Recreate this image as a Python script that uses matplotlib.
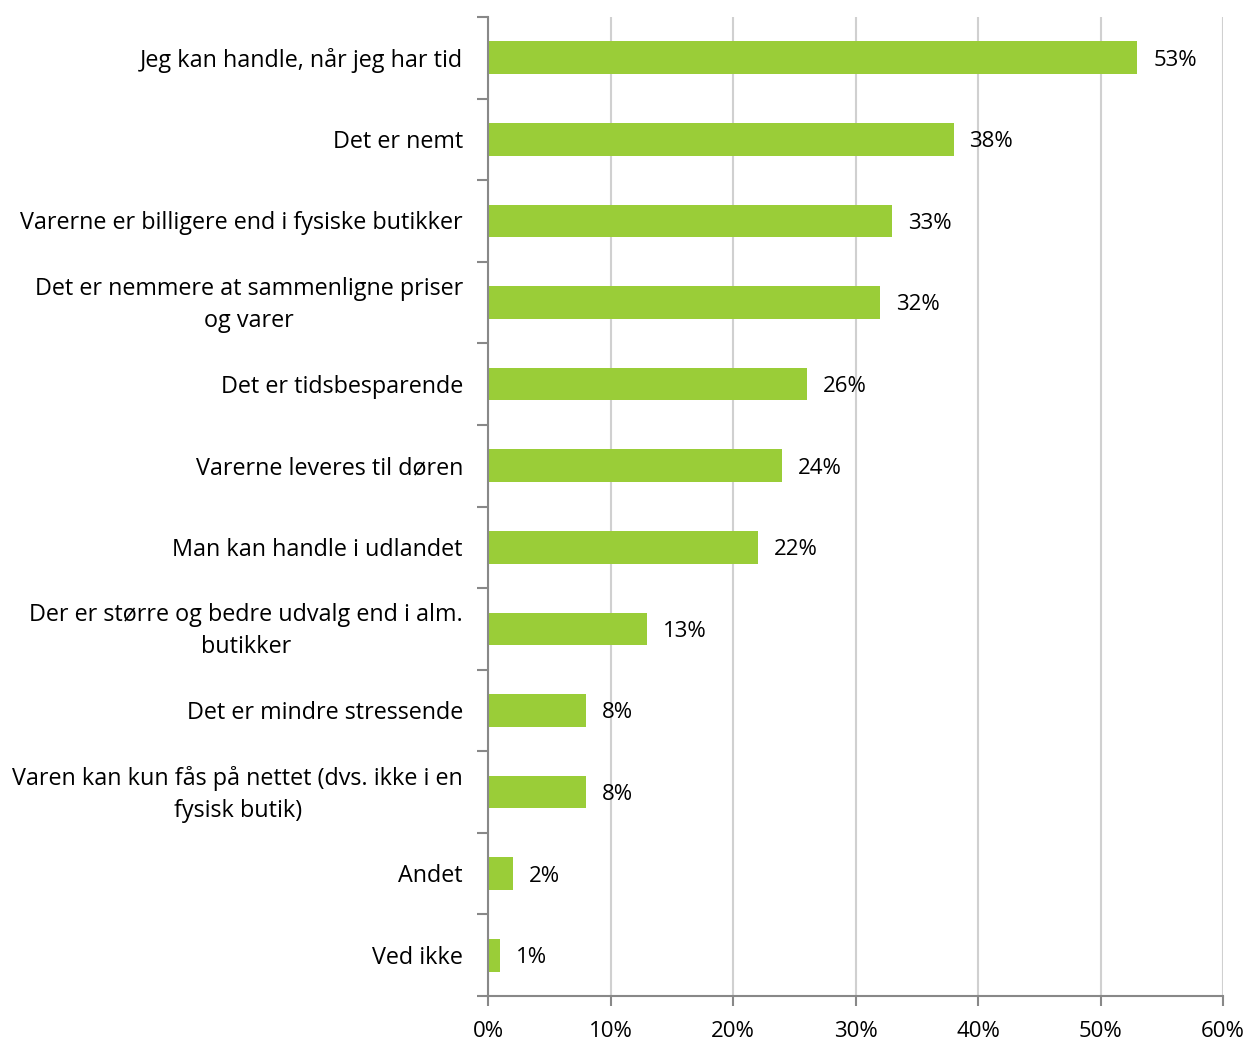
import matplotlib
matplotlib.use("Agg")
import matplotlib.pyplot as plt
import numpy as np

categories = [
    "Jeg kan handle, når jeg har tid",
    "Det er nemt",
    "Varerne er billigere end i fysiske butikker",
    "Det er nemmere at sammenligne priser\nog varer",
    "Det er tidsbesparende",
    "Varerne leveres til døren",
    "Man kan handle i udlandet",
    "Der er større og bedre udvalg end i alm.\nbutikker",
    "Det er mindre stressende",
    "Varen kan kun fås på nettet (dvs. ikke i en\nfysisk butik)",
    "Andet",
    "Ved ikke",
]
values = [53, 38, 33, 32, 26, 24, 22, 13, 8, 8, 2, 1]
x_ticks = [0, 10, 20, 30, 40, 50, 60]
x_tick_labels = ["0%", "10%", "20%", "30%", "40%", "50%", "60%"]

plt.rcParams["font.family"] = ["Open Sans", "DejaVu Sans"]
FS_CAT = 16.8
FS_NUM = 16.0

fig = plt.figure(figsize=(12.48, 10.48), dpi=100)
ax = fig.add_axes([488 / 1248, 1 - 996 / 1048, (1223 - 488) / 1248, (996 - 17) / 1048])

n = len(categories)
pos = np.arange(n)
bar_color = "#9ACD38"
ax.barh(pos, values, height=0.4, color=bar_color, zorder=3)

ax.set_xlim(0, 60)
ax.set_ylim(n - 0.5, -0.5)

# vertical gridlines
ax.set_xticks(x_ticks)
ax.set_xticklabels(x_tick_labels, fontsize=FS_NUM)
ax.xaxis.grid(True, color="#D0D0D0", linewidth=1.5, zorder=0)
ax.tick_params(axis="x", length=7, width=1.5, color="#888888", pad=11, direction="out")

# category boundaries as y ticks, labels as text
ax.set_yticks(np.arange(-0.5, n, 1.0))
ax.set_yticklabels([])
ax.tick_params(axis="y", length=8, width=1.5, color="#888888", direction="out")
for p, c in zip(pos, categories):
    ax.text(-25 / (735 / 60), p + 0.03, c, ha="right", va="center", fontsize=FS_CAT,
            multialignment="center", linespacing=1.45, color="#000000")

for p, v in zip(pos, values):
    ax.text(v + 1.3, p + 0.03, f"{v}%", ha="left", va="center", fontsize=FS_NUM, color="#000000")

for s in ["top", "right"]:
    ax.spines[s].set_visible(False)
for s in ["left", "bottom"]:
    ax.spines[s].set_color("#888888")
    ax.spines[s].set_linewidth(1.5)
    ax.spines[s].set_zorder(4)

fig.savefig("out.png", dpi=100, facecolor="white")
